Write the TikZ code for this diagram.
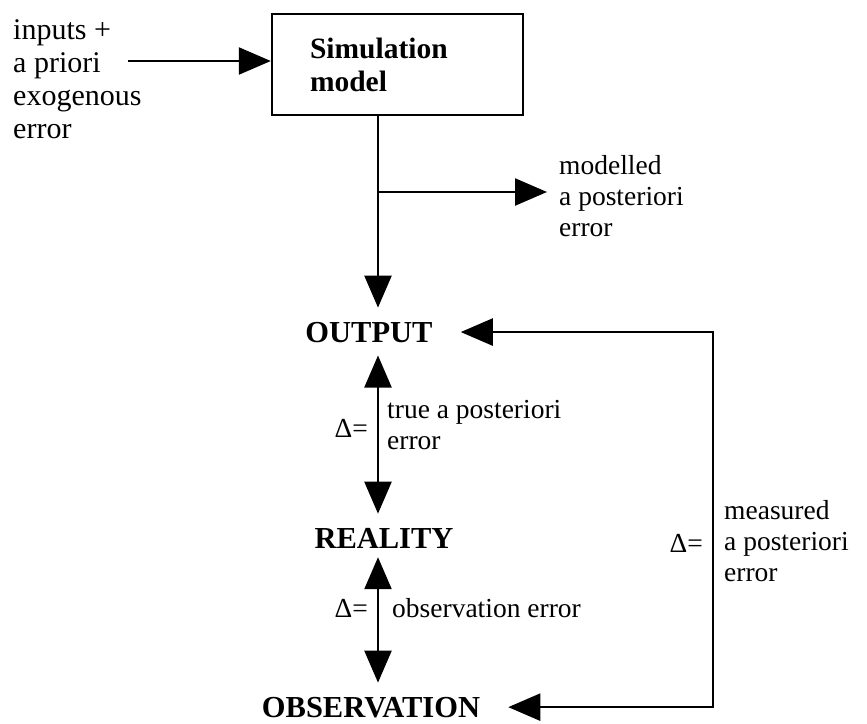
\documentclass[tikz,border=0pt]{standalone}
\usepackage{fontspec}
\setmainfont{Liberation Serif}
\usetikzlibrary{arrows.meta,calc}
\tikzset{
  txt/.style={inner sep=0pt,font=\fontsize{27.5}{31}\selectfont},
  big/.style={inner sep=0pt,font=\fontsize{30}{33}\selectfont},
  ttl/.style={inner sep=0pt,font=\fontsize{30.5}{33}\selectfont\bfseries},
  simbox/.style={draw,line width=2.4pt,minimum width=251pt,minimum height=101pt,text width=175pt,align=left,inner sep=0pt,font=\fontsize{29.5}{33}\selectfont\bfseries},
  arr/.style={-{Triangle[length=32pt,width=27pt]},line width=2.4pt},
  dbl/.style={{Triangle[length=32pt,width=27pt]}-{Triangle[length=32pt,width=27pt]},line width=2.4pt},
}
\begin{document}
\begin{tikzpicture}[x=1pt,y=-1pt]
 \useasboundingbox (0,0) rectangle (867,723);
 \node[big,anchor=north west,align=left] (inp) at (13,19) {inputs +\\a priori\\exogenous\\error};
 \node[simbox] (sim) at (397.5,64.5) {Simulation\\model};
 \coordinate (spine) at (378,0);
 \node[ttl,anchor=base] (out) at (369,342) {OUTPUT};
 \node[ttl,anchor=base] (real) at (384,548) {REALITY};
 \node[ttl,anchor=base] (obs) at (371,717) {OBSERVATION};
 \node[txt,anchor=north west,align=left] (mod) at (559,155) {modelled\\a posteriori\\error};
 \node[txt,anchor=north west,align=left] (tru) at (387,400) {true a posteriori\\error};
 \node[txt,anchor=base east] (d1) at (368,437) {Δ=};
 \node[txt,anchor=base west] (oer) at (392,617) {observation error};
 \node[txt,anchor=base east] (d2) at (368,617) {Δ=};
 \node[txt,anchor=north west,align=left] (mes) at (724,500) {measured\\a posteriori\\error};
 \node[txt,anchor=base east] (d3) at (703,552) {Δ=};
 % connectors
 \coordinate (in0) at (128,61);
 \draw[arr] (in0) -- (in0 -| sim.west);
 \draw[arr,shorten >=14pt] (sim.south -| spine) -- (out.north -| spine);
 \coordinate (br) at (378,192);
 \draw[arr,shorten >=12pt] (br) -- (br -| mod.west);
 \draw[dbl,shorten <=13pt,shorten >=14pt] (out.south -| spine) -- (real.north -| spine);
 \draw[dbl,shorten <=9pt,shorten >=14pt] (real.south -| spine) -- (obs.north -| spine);
 \coordinate (fb) at (713,520);
 \draw[dbl,shorten <=28pt,shorten >=28pt] (out.east) -| (fb) |- (obs.east);
\end{tikzpicture}
\end{document}
